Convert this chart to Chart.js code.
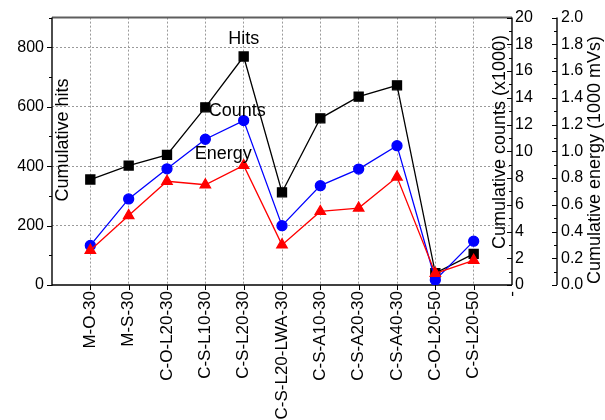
<!DOCTYPE html>
<html>
<head>
<meta charset="utf-8">
<script src="https://cdn.jsdelivr.net/npm/chart.js@4.4.0/dist/chart.umd.min.js"></script>
<style>
  html, body { margin: 0; padding: 0; background: #fff; }
  #chart-container { width: 605px; height: 420px; }
</style>
</head>
<body>
<div id="chart-container"><canvas id="lineChart" width="605" height="420"></canvas></div>
<script>
// Data
const categories = ['M-O-30', 'M-S-30', 'C-O-L20-30', 'C-S-L10-30', 'C-S-L20-30', 'C-S-L20-LWA-30',
  'C-S-A10-30', 'C-S-A20-30', 'C-S-A40-30', 'C-O-L20-50', 'C-S-L20-50'];
const hits = [355, 402, 438, 598, 769, 312, 561, 634, 672, 40, 105];
const counts = [2.96, 6.44, 8.69, 10.9, 12.3, 4.44, 7.43, 8.67, 10.42, 0.37, 3.28]; // x1000
const energy = [0.26, 0.52, 0.776, 0.75, 0.894, 0.30, 0.55, 0.575, 0.807, 0.087, 0.185]; // 1000 mVs

// one empty slot on the left, a "-" slot on the right, like the original axis
const xLabels = [''].concat(categories, ['-']);
const pad = arr => [null].concat(arr, [null]);

const FONT = "'Liberation Sans', Arial, sans-serif";

function strokeLine(ctx, x1, y1, x2, y2) {
  ctx.beginPath();
  ctx.moveTo(x1, y1);
  ctx.lineTo(x2, y2);
  ctx.stroke();
}

// tick marks pointing left of an axis line
function drawTicks(ctx, scale, xPos, max, step, majorLen, minorLen) {
  for (let i = 0; i * step <= max + 1e-9; i++) {
    const y = Math.round(scale.getPixelForValue(i * step)) + 0.5;
    const len = i % 2 === 0 ? majorLen : minorLen;
    strokeLine(ctx, xPos - len, y, xPos, y);
  }
}

const framePlugin = {
  id: 'framePlugin',
  beforeDatasetsDraw(chart) {
    const ctx = chart.ctx;
    const area = chart.chartArea;
    const sx = chart.scales.x;
    const sy = chart.scales.y;
    const sc = chart.scales.yCounts;
    const se = chart.scales.yEnergy;
    ctx.save();

    // top frame
    ctx.strokeStyle = '#5e5e5e';
    ctx.lineWidth = 2;
    strokeLine(ctx, area.left, area.top, area.right, area.top);

    ctx.strokeStyle = '#000';
    ctx.lineWidth = 1.4;
    strokeLine(ctx, area.left, area.top, area.left, area.bottom + 0.7);   // left axis
    strokeLine(ctx, area.left, area.bottom, area.right, area.bottom);     // bottom axis
    strokeLine(ctx, area.right, area.top, area.right, area.bottom);       // counts axis
    strokeLine(ctx, se.left, area.top, se.left, area.bottom);             // energy axis

    ctx.lineWidth = 1;
    drawTicks(ctx, sy, area.left, 900, 100, 5, 3);
    drawTicks(ctx, sc, area.right, 20, 1, 5, 3);
    drawTicks(ctx, se, se.left, 2, 0.1, 5, 3);

    // category ticks below the bottom axis
    for (let i = 1; i <= categories.length; i++) {
      const x = Math.round(sx.getPixelForValue(i)) + 0.5;
      strokeLine(ctx, x, area.bottom, x, area.bottom + 5);
    }
    ctx.restore();
  },
  afterDatasetsDraw(chart) {
    const ctx = chart.ctx;
    const area = chart.chartArea;
    const sx = chart.scales.x;
    const sy = chart.scales.y;
    const se = chart.scales.yEnergy;
    ctx.save();
    ctx.fillStyle = '#000';
    ctx.font = '18px ' + FONT;
    ctx.textAlign = 'center';
    ctx.textBaseline = 'middle';

    // series names next to the C-S-L20-30 peak
    ctx.fillText('Hits', sx.getPixelForValue(5), sy.getPixelForValue(827));
    ctx.fillText('Counts', sx.getPixelForValue(4.83), sy.getPixelForValue(587));
    ctx.fillText('Energy', sx.getPixelForValue(4.47), sy.getPixelForValue(440));

    // rotated axis titles
    const vText = (text, x, y) => {
      ctx.save();
      ctx.translate(x, y);
      ctx.rotate(-Math.PI / 2);
      ctx.fillText(text, 0, 0);
      ctx.restore();
    };
    vText('Cumulative hits', area.left + 11, 140);
    vText('Cumulative counts (x1000)', area.right - 12, 142);
    vText('Cumulative energy (1000 mVs)', se.left + 38, 160);
    ctx.restore();
  }
};

const canvas = document.getElementById('lineChart');
const ctx = canvas.getContext('2d');

const tickFont = { family: FONT, size: 16 };

const lineChart = new Chart(ctx, {
  type: 'line',
  data: {
    labels: xLabels,
    datasets: [
      {
        label: 'Energy',
        data: pad(energy),
        yAxisID: 'yEnergy',
        borderColor: '#ff0000',
        backgroundColor: '#ff0000',
        borderWidth: 1.3,
        pointStyle: 'triangle',
        pointRadius: 6,
        order: 0,
      },
      {
        label: 'Counts',
        data: pad(counts),
        yAxisID: 'yCounts',
        borderColor: '#0000ff',
        backgroundColor: '#0000ff',
        borderWidth: 1.3,
        pointStyle: 'circle',
        pointRadius: 5,
        order: 1,
      },
      {
        label: 'Hits',
        data: pad(hits),
        yAxisID: 'y',
        borderColor: '#000000',
        backgroundColor: '#000000',
        borderWidth: 1.3,
        pointStyle: 'rect',
        pointRadius: 6.4,
        order: 2,
      },
    ],
  },
  options: {
    responsive: false,
    animation: false,
    layout: { padding: { top: 15, left: 0, right: 0, bottom: 0 } },
    plugins: {
      legend: { display: false },
      tooltip: { enabled: false },
    },
    elements: {
      point: { borderWidth: 0 },
      line: { tension: 0 },
    },
    scales: {
      x: {
        type: 'category',
        offset: false,
        afterFit: s => { s.height = 135; },
        grid: {
          drawTicks: false,
          color: c => (c.index === 0 || c.index === xLabels.length - 1) ? 'rgba(0,0,0,0)' : '#9a9a9a',
          lineWidth: 1,
        },
        border: { display: false, dash: [2, 2] },
        ticks: {
          autoSkip: false,
          minRotation: 90,
          maxRotation: 90,
          padding: 6,
          color: '#000',
          font: { family: FONT, size: 17 },
        },
      },
      y: {
        type: 'linear',
        position: 'left',
        min: 0,
        max: 900,
        afterFit: s => { s.width = 52; },
        afterBuildTicks: s => { s.ticks = s.ticks.filter(t => t.value % 200 === 0); },
        grid: {
          drawTicks: false,
          color: c => (c.tick && (c.tick.value === 0 || c.tick.value === 900)) ? 'rgba(0,0,0,0)' : '#9a9a9a',
          lineWidth: 1,
        },
        border: { display: false, dash: [2, 2] },
        ticks: { stepSize: 200, padding: 8, color: '#000', font: tickFont },
      },
      yCounts: {
        type: 'linear',
        position: 'right',
        weight: 0,
        min: 0,
        max: 20,
        afterFit: s => { s.width = 45; },
        grid: { display: false, drawTicks: false },
        border: { display: false },
        ticks: { stepSize: 2, padding: 3, color: '#000', font: tickFont },
      },
      yEnergy: {
        type: 'linear',
        position: 'right',
        weight: 1,
        min: 0,
        max: 2,
        afterFit: s => { s.width = 48; },
        grid: { display: false, drawTicks: false },
        border: { display: false },
        ticks: {
          stepSize: 0.2,
          padding: 4,
          color: '#000',
          font: tickFont,
          callback: v => v.toFixed(1),
        },
      },
    },
  },
  plugins: [framePlugin],
});
</script>
</body>
</html>
